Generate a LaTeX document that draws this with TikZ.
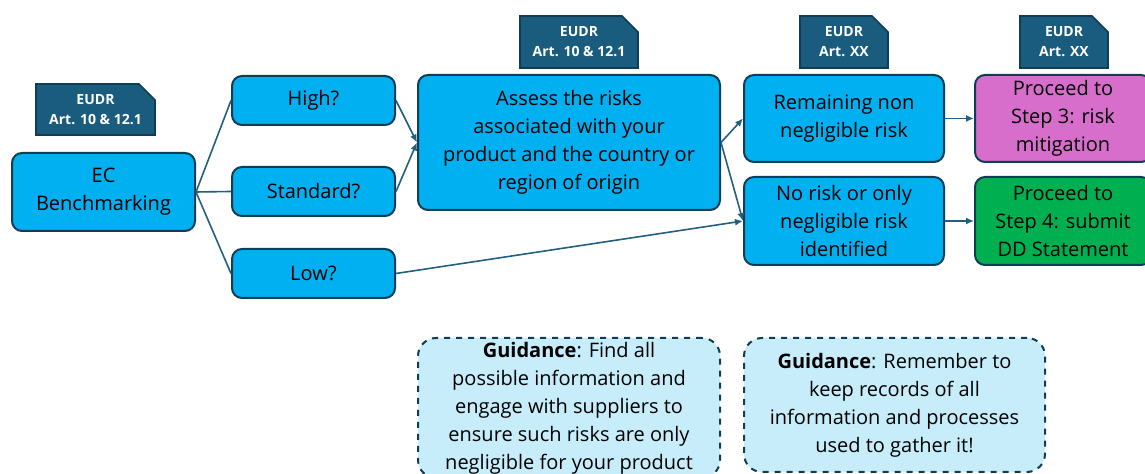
\documentclass[tikz,border=0pt]{standalone}
\usepackage{fontspec}
\setmainfont{Open Sans}
\usetikzlibrary{positioning,arrows.meta,shapes.misc}
\definecolor{boxcyan}{HTML}{00B0F0}
\definecolor{boxedge}{HTML}{0F3D56}
\definecolor{tagblue}{HTML}{1A5C7E}
\definecolor{linkblue}{HTML}{22607F}
\definecolor{stepmagenta}{HTML}{D86ECC}
\definecolor{stepgreen}{HTML}{00B050}
\definecolor{guidefill}{HTML}{C7ECFA}
\tikzset{
boxnode/.style={rectangle, rounded corners=5pt, draw=boxedge, line width=1pt, fill=boxcyan,
                inner sep=0pt, align=center, font=\fontsize{10}{14}\selectfont},
tagnode/.style={chamfered rectangle, chamfered rectangle corners=north east,
                chamfered rectangle xsep=4pt, chamfered rectangle ysep=4pt,
                draw=boxedge, line width=0.8pt, fill=tagblue, text=white, inner sep=0pt,
                align=center, font=\fontsize{7}{10}\selectfont\bfseries},
guidenode/.style={boxnode, dashed, fill=guidefill, rounded corners=9pt},
>={Latex[width=3.5pt,length=4pt]},
link/.style={draw=linkblue, line width=0.8pt}
}
\begin{document}
\begin{tikzpicture}[x=0.5pt, y=-0.5pt]
\clip (0,0) rectangle (1145,474);

%Tags
\node[tagnode, minimum width=59.5pt, minimum height=25.5pt] (tagbench) at(95.5,109.5) {EUDR\\Art. 10 \& 12.1};
\node[tagnode, minimum width=59pt, minimum height=26pt] (tagassess) at(579,42) {EUDR\\Art. 10 \& 12.1};
\node[tagnode, minimum width=44pt, minimum height=26pt] (tagresult) at(844,42) {EUDR\\Art. XX};
\node[tagnode, minimum width=44pt, minimum height=26pt] (tagstep) at(1064,42) {EUDR\\Art. XX};

%Flow nodes
\node[boxnode, minimum width=91.5pt, minimum height=39pt] (bench) at(103.5,192) {EC\\Benchmarking};
\node[boxnode, minimum width=81.5pt, minimum height=24.5pt] (high) at(313.5,100.5) {High?};
\node[boxnode, minimum width=81.5pt, minimum height=24.5pt] (standard) at(313.5,191.5) {Standard?};
\node[boxnode, minimum width=81.5pt, minimum height=24.5pt] (low) at(313.5,273.5) {Low?};
\node[boxnode, minimum width=151pt, minimum height=67.5pt] (assess) at(569,142.5)
  {Assess the risks\\associated with your\\product and the country or\\region of origin};
\node[boxnode, minimum width=100pt, minimum height=43.5pt] (remain) at(844,118.5) {Remaining non\\negligible risk};
\node[boxnode, minimum width=100pt, minimum height=44pt] (norisk) at(844,221) {No risk or only\\negligible risk\\identified};
\node[boxnode, fill=stepmagenta, minimum width=88pt, minimum height=43.5pt] (mitigate) at(1063,118.5) {Proceed to\\Step 3: risk\\mitigation};
\node[boxnode, fill=stepgreen, minimum width=88pt, minimum height=44pt] (submit) at(1063,221) {Proceed to\\Step 4: submit\\DD Statement};

%Guidance
\node[guidenode, minimum width=151pt, minimum height=70pt] (guideassess) at(569,408)
  {\textbf{Guidance}: Find all\\possible information and\\engage with suppliers to\\ensure such risks are only\\negligible for your product};
\node[guidenode, minimum width=150.5pt, minimum height=67pt] (guiderecord) at(894.5,405)
  {\textbf{Guidance}: Remember to\\keep records of all\\information and processes\\used to gather it!};

\draw[link] (bench.east) -- (high.west);
\draw[link] (bench.east) -- (standard.west);
\draw[link] (bench.east) -- (low.west);
\draw[link, ->] (high.east) -- (assess.west);
\draw[link, ->] (standard.east) -- (assess.west);
\draw[link, ->] (assess.east) -- (remain.west);
\draw[link, ->] (assess.east) -- (norisk.west);
\draw[link, ->] (low.east) -- (norisk.west);
\draw[link, ->] (remain) -- (mitigate);
\draw[link, ->] (norisk) -- (submit);
\end{tikzpicture}
\end{document}
